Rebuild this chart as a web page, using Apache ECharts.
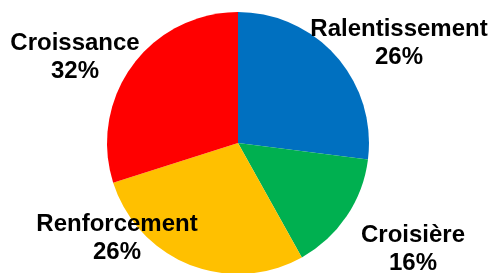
<!DOCTYPE html>
<html>
<head>
<meta charset="utf-8">
<script src="https://cdn.jsdelivr.net/npm/echarts@6/dist/echarts.min.js"></script>
<style>
    html, body { margin: 0; padding: 0; background: #fff; }
    #chart { width: 492px; height: 273px; }
</style>
</head>
<body>
<div id="chart"></div>
<script>
// slices, clockwise from 12 o'clock
const categories = ['Ralentissement', 'Croisière', 'Renforcement', 'Croissance']
// slice sizes as drawn
const sliceValues = [27.0, 14.9, 28.2, 29.9]
// percentages printed on the labels
const labelPercents = [26, 16, 26, 32]
const colors = ['#0070C0', '#00B050', '#FFC000', '#FF0000']

// where each label block sits (center of the two lines)
const labelSpots = [[399, 43], [413, 249], [117, 238], [75, 57]]

const chart = echarts.init(document.getElementById('chart'))
chart.setOption({
    animation: false,
    series: [{
        type: 'pie',
        center: [238, 143],
        radius: 131,
        startAngle: 90,
        clockwise: true,
        data: categories.map((name, i) => ({
            name: name,
            value: sliceValues[i],
            itemStyle: { color: colors[i] }
        })),
        itemStyle: {
            borderWidth: 0
        },
        label: {
            show: true,
            position: 'inside',
            overflow: 'none',
            formatter: p => p.name + '\n' + labelPercents[p.dataIndex] + '%',
            fontFamily: 'Liberation Sans, Arial, sans-serif',
            fontWeight: 'bold',
            fontSize: 24,
            lineHeight: 28,
            color: '#000',
            align: 'center'
        },
        labelLine: { show: false },
        labelLayout: function(params) {
            const spot = labelSpots[params.dataIndex]
            return {
                x: spot[0],
                y: spot[1],
                align: 'center',
                verticalAlign: 'middle'
            }
        },
        emphasis: { disabled: true }
    }]
})
</script>
</body>
</html>
